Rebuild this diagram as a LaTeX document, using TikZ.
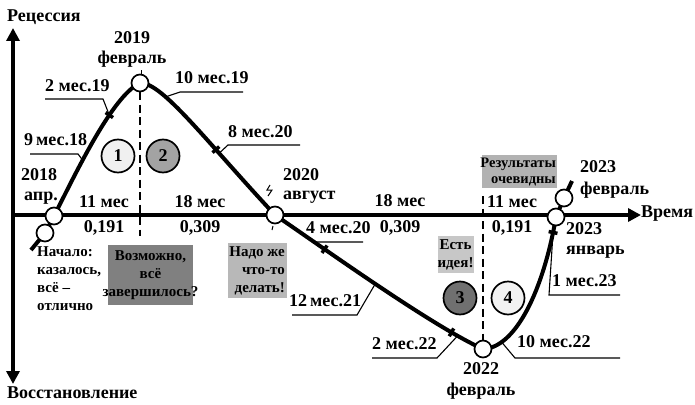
\documentclass[tikz,border=0pt]{standalone}
\usepackage{fontspec}
\setmainfont{Liberation Serif}
\usetikzlibrary{arrows.meta}
\definecolor{gA}{gray}{0.94}
\definecolor{gB}{gray}{0.64}
\definecolor{gC}{gray}{0.44}
\definecolor{gD}{gray}{0.95}
\definecolor{bxA}{gray}{0.50}
\definecolor{bxB}{gray}{0.72}
\definecolor{bxC}{gray}{0.78}
\definecolor{bxD}{gray}{0.70}
\begin{document}
\begin{tikzpicture}[x=1pt,y=-1pt,
  lbl/.style={font=\bfseries\fontsize{18}{19}\selectfont, inner sep=0pt},
  sml/.style={font=\bfseries\fontsize{15}{18}\selectfont, inner sep=0pt},
  axisline/.style={line width=4.5pt},
  curveline/.style={line width=4pt},
  leader/.style={line width=1.1pt},
  dashv/.style={line width=1.3pt, dash pattern=on 8pt off 4.5pt},
  pt/.style={circle, draw, line width=1.7pt, fill=white, minimum size=17pt, inner sep=0pt},
  num/.style={circle, draw, line width=1.7pt, minimum size=33pt, inner sep=0pt, font=\bfseries\fontsize{18}{19}\selectfont},
  tickm/.style={rectangle, fill=black, minimum width=3.5pt, minimum height=9pt, inner sep=0pt, sloped},
  greybox/.style={rectangle, inner sep=0pt, draw=none},
  ahead/.tip={Triangle[length=13pt,width=13pt]},
]
\useasboundingbox (0,0) rectangle (695,404);

% axes
\coordinate (vtop) at (13,28);
\coordinate (vbot) at (13,384);
\coordinate (hl) at (13,215);
\coordinate (hr) at (641,215);
\draw[axisline, ahead-ahead] (vbot) -- (vtop);
\draw[axisline, -ahead] (hl) -- (hr);
\node[lbl, anchor=west] (rec) at (7,17) {Рецессия};
\node[lbl, anchor=west] (vos) at (7,393) {Восстановление};
\node[lbl, anchor=west] (vrem) at (641,214) {Время};

% dashed verticals
\coordinate (d1a) at (140,92);
\coordinate (d1b) at (140,236);
\coordinate (d2a) at (483,196);
\coordinate (d2b) at (483,340);
\draw[dashv] (d1a) -- (d1b);
\draw[dashv] (d2a) -- (d2b);

% key points
\coordinate (tail18) at (31,250);
\coordinate (k18b) at (45,233);
\coordinate (k18a) at (54,216);
\coordinate (k19) at (140,83);
\coordinate (k20) at (275,215);
\coordinate (k22) at (483,349);
\coordinate (k23a) at (556,217);
\coordinate (k23b) at (564,198);
\coordinate (tail23) at (572,181);

% curve
\draw[curveline] (tail18) -- (k18b) -- (k18a)
  .. controls (75,175) and (112,96) .. (k19)
     coordinate[pos=.37] (p918) coordinate[pos=.66] (p219) node[tickm,pos=.66] (tk1) {}
  .. controls (162,82) and (205,140) .. (k20)
     coordinate[pos=.3] (p1019) coordinate[pos=.7] (p820) node[tickm,pos=.68] (tk2) {}
  .. controls (318,244) and (430,325) .. (k22)
     coordinate[pos=.17] (p420) node[tickm,pos=.28] (tk3) {}
     coordinate[pos=.5] (p1221) coordinate[pos=.86] (p222) node[tickm,pos=.83] (tk4) {}
  .. controls (515,348) and (543,292) .. (k23a)
     coordinate[pos=.2] (p1022) coordinate[pos=.93] (p123) node[tickm,pos=.93] (tk5) {}
  -- (k23b) -- (tail23);

% leaders
\coordinate (a1) at (78,154); \coordinate (b1) at (30,154);
\draw[leader] (p918) -- (a1) -- (b1);
\coordinate (a2) at (103,99); \coordinate (b2) at (45,99);
\draw[leader] (p219) -- (a2) -- (b2);
\coordinate (a3) at (180,92); \coordinate (b3) at (243,92);
\draw[leader] (p1019) -- (a3) -- (b3);
\coordinate (a4) at (228,145); \coordinate (b4) at (300,145);
\draw[leader] (p820) -- (a4) -- (b4);
\coordinate (a5) at (315,242); \coordinate (b5) at (363,242);
\draw[leader] (p420) -- (a5) -- (b5);
\coordinate (a6) at (357,315); \coordinate (b6) at (292,315);
\draw[leader] (p1221) -- (a6) -- (b6);
\coordinate (a7) at (437,358); \coordinate (b7) at (372,358);
\draw[leader] (p222) -- (a7) -- (b7);
\coordinate (a8) at (515,358); \coordinate (b8) at (620,358);
\draw[leader] (p1022) -- (a8) -- (b8);
\coordinate (a9) at (549,295); \coordinate (b9) at (620,295);
\draw[leader] (p123) -- (a9) -- (b9);

% small marks
\draw[line width=1pt] (141,70) -- (141,74);
\draw[line width=1pt] (273,226) -- (272,230);
\draw[line width=1pt] (270,185) -- (267,190) -- (272,190) -- (268,196);

% circles on the curve
\node[pt] (c18a) at (k18a) {};
\node[pt] (c18b) at (k18b) {};
\node[pt] (c19) at (k19) {};
\node[pt] (c20) at (k20) {};
\node[pt] (c22) at (k22) {};
\node[pt] (c23a) at (k23a) {};
\node[pt] (c23b) at (k23b) {};

% numbered phases
\node[num, fill=gA] (n1) at (118,156) {1};
\node[num, fill=gB] (n2) at (163,156) {2};
\node[num, fill=gC] (n3) at (460,298) {3};
\node[num, fill=gD] (n4) at (508,298) {4};

% boxes
\node[greybox, fill=bxA, minimum width=85pt, minimum height=60pt] (bx1) at (150.5,275) {};
\node[sml, align=center] (bx1t) at (bx1) {Возможно,\\всё\\завершилось?};
\node[greybox, fill=bxB, minimum width=59pt, minimum height=55pt] (bx2) at (257.5,270.5) {};
\node[sml, align=right, anchor=east] (bx2t) at (285,271) {Надо же\\что-то\\делать!};
\node[greybox, fill=bxC, minimum width=36pt, minimum height=37pt] (bx3) at (455.5,254.5) {};
\node[sml, align=center] (bx3t) at (bx3) {Есть\\идея!};
\node[greybox, fill=bxD, minimum width=75pt, minimum height=33pt] (bx4) at (519,171.5) {};
\node[sml, align=right, anchor=east, font=\bfseries\fontsize{14.5}{16}\selectfont] (bx4t) at (556,172) {Результаты\\очевидны};

% start text
\node[sml, align=left, anchor=north west] (start) at (37,246) {Начало:\\казалось,\\всё --\\отлично};

% date labels
\node[lbl] (y19) at (132,38) {2019};
\node[lbl] (m19) at (132,59) {февраль};
\node[lbl, anchor=west] (y18) at (21,175) {2018};
\node[lbl, anchor=west] (m18) at (24,198) {апр.};
\node[lbl, anchor=west] (y20) at (283,175) {2020};
\node[lbl, anchor=west] (m20) at (283,197) {август};
\node[lbl] (y22) at (481,369) {2022};
\node[lbl] (m22) at (481,391) {февраль};
\node[lbl, anchor=west] (y23f) at (580,167) {2023};
\node[lbl, anchor=west] (m23f) at (580,190) {февраль};
\node[lbl, anchor=west] (y23j) at (566,229) {2023};
\node[lbl, anchor=west] (m23j) at (566,252) {январь};

% interval labels
\node[lbl] (i1) at (104,202) {11 мес};
\node[lbl] (v1) at (104,228) {0,191};
\node[lbl] (i2) at (200,202) {18 мес};
\node[lbl] (v2) at (200,228) {0,309};
\node[lbl] (i3) at (400,201) {18 мес};
\node[lbl] (v3) at (400,228) {0,309};
\node[lbl] (i4) at (512,202) {11 мес};
\node[lbl] (v4) at (512,228) {0,191};

% month labels
\node[lbl, anchor=west] (m1) at (24,140) {9\,мес.18};
\node[lbl, anchor=west] (m2) at (45,86) {2 мес.19};
\node[lbl, anchor=west] (m3) at (175,78) {10 мес.19};
\node[lbl, anchor=west] (m4) at (228,132) {8 мес.20};
\node[lbl, anchor=west] (m5) at (306,228) {4 мес.20};
\node[lbl, anchor=west] (m6) at (289,301) {12\,мес.21};
\node[lbl, anchor=west] (m7) at (372,344) {2 мес.22};
\node[lbl, anchor=west] (m8) at (517,342) {10 мес.22};
\node[lbl, anchor=west] (m9) at (552,281) {1 мес.23};
\end{tikzpicture}
\end{document}
